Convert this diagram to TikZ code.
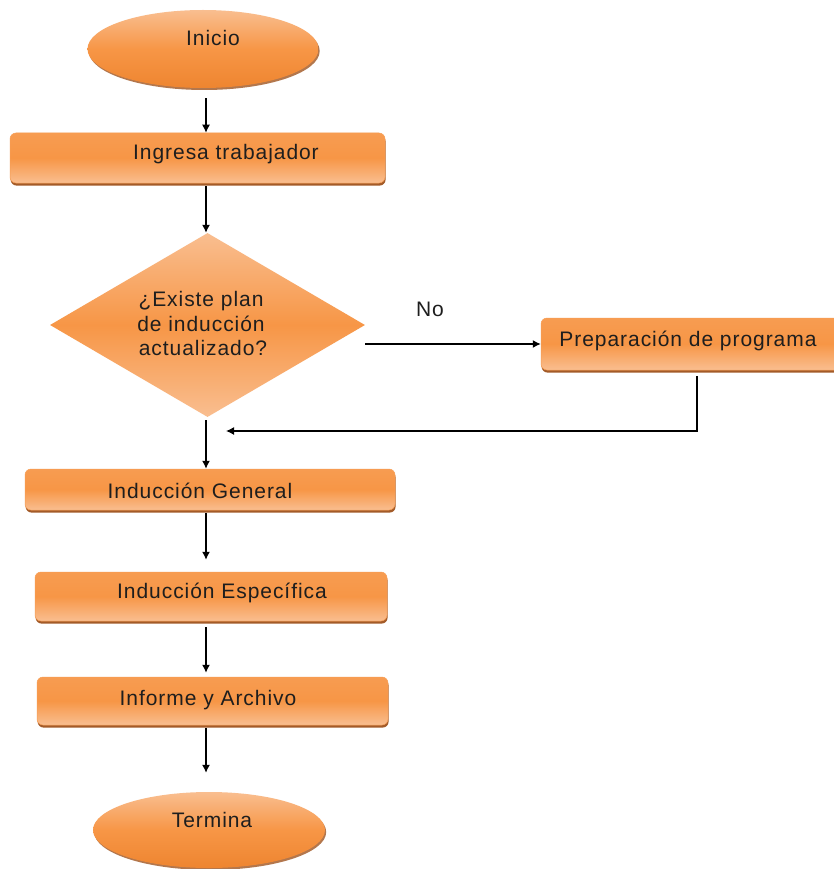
\documentclass[tikz,border=0pt]{standalone}
\usepackage{fontspec}
\setmainfont{Liberation Sans}[LetterSpace=4.5]
\usetikzlibrary{shapes.geometric,shadows,arrows.meta}
\definecolor{orM}{HTML}{F79646}
\definecolor{orL}{HTML}{F9BE90}
\definecolor{orD}{HTML}{EE8530}
\definecolor{shd}{HTML}{9A4A12}
\definecolor{txt}{HTML}{1E1E1E}
\tikzset{
  box/.style={rectangle, rounded corners=6pt, top color=orM!85!orL, bottom color=orL, middle color=orM,
    draw=orM!80!orL, line width=0.5pt, inner sep=0pt,
    drop shadow={shadow xshift=0.6pt, shadow yshift=-2.6pt, fill=shd, opacity=0.9}},
  oval/.style={ellipse, top color=orL, bottom color=orD, middle color=orM, inner sep=0pt,
    drop shadow={shadow xshift=1.2pt, shadow yshift=-2pt, fill=shd, opacity=0.75}},
  dec/.style={diamond, top color=orL, bottom color=orL, middle color=orM, inner sep=0pt},
  lbl/.style={anchor=base, text=txt, font=\fontsize{21}{25}\selectfont, inner sep=0pt},
  arr/.style={draw=black, line width=1.3pt, -{Latex[length=8pt,width=8pt]}}
}
\begin{document}
\begin{tikzpicture}[x=1pt,y=-1pt]
\useasboundingbox (0,0) rectangle (833,869);
\fill[white] (0,0) rectangle (833,869);
\coordinate (sp) at (206,0);
\coordinate (ret) at (697,431);
% shapes
\node[oval, minimum width=231pt, minimum height=78pt] (ini) at (203,49) {};
\node[box, minimum width=375pt, minimum height=50pt] (ing) at (197.5,158) {};
\node[dec, minimum width=315pt, minimum height=184pt] (dia) at (207.5,325) {};
\node[box, minimum width=320pt, minimum height=52pt] (prep) at (701,344) {};
\node[box, minimum width=370pt, minimum height=41pt] (ige) at (210,489.5) {};
\node[box, minimum width=352pt, minimum height=49pt] (iesp) at (211,596.5) {};
\node[box, minimum width=351pt, minimum height=48pt] (inf) at (212.5,701) {};
\node[oval, minimum width=232pt, minimum height=76pt] (ter) at (209,830) {};
% texts
\node[lbl] (tini) at (213,46) {Inicio};
\node[lbl] (ting) at (226,160) {Ingresa trabajador};
\node[lbl] (tda) at (201,306) {¿Existe plan};
\node[lbl] (tdb) at (201,331) {de inducción};
\node[lbl] (tdc) at (203,355) {actualizado?};
\node[lbl] (tno) at (430,316) {No};
\node[lbl] (tprep) at (688,346) {Preparación de programa};
\node[lbl] (tige) at (200,498) {Inducción General};
\node[lbl] (tiesp) at (222,598) {Inducción Específica};
\node[lbl] (tinf) at (208,705) {Informe y Archivo};
\node[lbl] (tter) at (212,827) {Termina};
% connectors
\draw[arr, shorten <=10pt] (ini.south -| sp) -- (ing.north -| sp);
\draw[arr, shorten <=3pt] (ing.south -| sp) -- (dia.north -| sp);
\draw[arr] (dia.east |- prep.west) -- (prep.west);
\draw[arr, shorten <=6pt, shorten >=20pt] (prep.south -| ret) -- (ret) -- (ret -| sp);
\draw[arr, shorten <=3pt] (dia.south -| sp) -- (ige.north -| sp);
\draw[arr, shorten <=3pt, shorten >=12pt] (ige.south -| sp) -- (iesp.north -| sp);
\draw[arr, shorten <=6pt, shorten >=4pt] (iesp.south -| sp) -- (inf.north -| sp);
\draw[arr, shorten <=3pt, shorten >=19pt] (inf.south -| sp) -- (ter.north -| sp);
\end{tikzpicture}
\end{document}
